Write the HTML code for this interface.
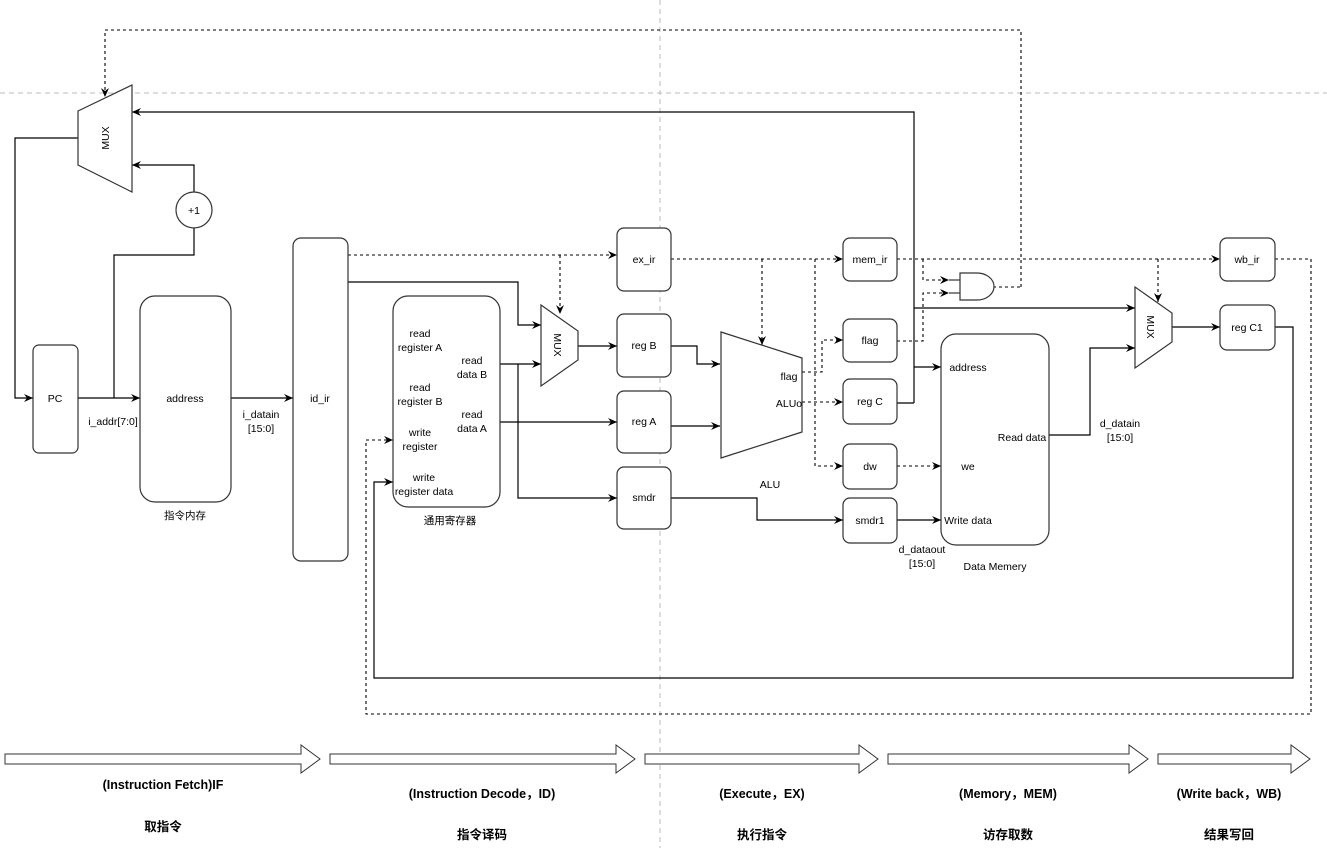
<!DOCTYPE html>
<html><head><meta charset="utf-8"><style>
html,body{margin:0;padding:0;background:#fff;}
svg{display:block;font-family:"Liberation Sans","Noto Sans CJK SC",sans-serif;}
</style></head><body>
<svg width="1327" height="848" viewBox="0 0 1327 848" xmlns="http://www.w3.org/2000/svg">
<defs>
<marker id="a" markerWidth="10" markerHeight="10" refX="9" refY="5" orient="auto" markerUnits="userSpaceOnUse"><path d="M0,1 L9,5 L0,9 L3,5 Z" fill="#000"/></marker>
</defs>
<line x1="0" y1="93" x2="1327" y2="93" stroke="#bbb" stroke-dasharray="5,4"/>
<line x1="660" y1="0" x2="660" y2="848" stroke="#bbb" stroke-dasharray="5,4"/>
<g fill="none" stroke="#000" stroke-width="1.2">
<path d="M914,403 V112 H132" marker-end="url(#a)"/>
<path d="M914,308 H1135" marker-end="url(#a)"/>
<path d="M914,367 H941" marker-end="url(#a)"/>
<path d="M897,403 H914"/>
<path d="M194,192 V165 H132" marker-end="url(#a)"/>
<path d="M194,228 V255 H114 V398"/>
<path d="M78,138 H15 V398 H33" marker-end="url(#a)"/>
<path d="M78,398 H140" marker-end="url(#a)"/>
<path d="M231,398 H293" marker-end="url(#a)"/>
<path d="M348,282 H518 V325 H541" marker-end="url(#a)"/>
<path d="M500,364 H541" marker-end="url(#a)"/>
<path d="M518,364 V498 H617" marker-end="url(#a)"/>
<path d="M500,422 H617" marker-end="url(#a)"/>
<path d="M578,346 H617" marker-end="url(#a)"/>
<path d="M671,346 H697 V364 H720" marker-end="url(#a)"/>
<path d="M671,426 H720" marker-end="url(#a)"/>
<path d="M671,498 H757 V520 H843" marker-end="url(#a)"/>
<path d="M897,520 H941" marker-end="url(#a)"/>
<path d="M1049,435 H1090 V348 H1135" marker-end="url(#a)"/>
<path d="M1172,327 H1220" marker-end="url(#a)"/>
<path d="M1275,327 H1293 V678 H374 V482 H393" marker-end="url(#a)"/>
</g>
<g fill="none" stroke="#000" stroke-width="1.1" stroke-dasharray="3,3">
<path d="M1021,287 V30 H105 V97" marker-end="url(#a)"/>
<path d="M993,287 H1021"/>
<path d="M348,255 H617" marker-end="url(#a)"/>
<path d="M560,255 V314" marker-end="url(#a)"/>
<path d="M671,259 H843" marker-end="url(#a)"/>
<path d="M762,259 V345" marker-end="url(#a)"/>
<path d="M815,259 V466 H843" marker-end="url(#a)"/>
<path d="M802,372 H822 V340 H843" marker-end="url(#a)"/>
<path d="M802,402 H843" marker-end="url(#a)"/>
<path d="M897,466 H941" marker-end="url(#a)"/>
<path d="M897,259 H1220" marker-end="url(#a)"/>
<path d="M923,259 V280 H949" marker-end="url(#a)"/>
<path d="M897,341 H923 V293 H949" marker-end="url(#a)"/>
<path d="M1158,259 V302" marker-end="url(#a)"/>
<path d="M1275,259 H1311 V714 H366 V440 H393" marker-end="url(#a)"/>
</g>
<g fill="#fff" stroke="#333" stroke-width="1.2">
<polygon points="78,111 132,85 132,192 78,165"/>
<circle cx="194" cy="210" r="18"/>
<rect x="33" y="345" width="45" height="108" rx="6"/>
<rect x="140" y="296" width="91" height="206" rx="15"/>
<rect x="293" y="238" width="55" height="323" rx="8"/>
<rect x="393" y="296" width="107" height="211" rx="15"/>
<polygon points="541,305 578,331 578,360 541,386"/>
<rect x="617" y="228" width="54" height="63" rx="7"/>
<rect x="617" y="314" width="54" height="63" rx="7"/>
<rect x="617" y="391" width="54" height="62" rx="7"/>
<rect x="617" y="467" width="54" height="62" rx="7"/>
<polygon points="721,332 802,358 802,432 721,458"/>
<rect x="843" y="238" width="54" height="43" rx="7"/>
<rect x="843" y="319" width="54" height="43" rx="7"/>
<rect x="843" y="379" width="54" height="45" rx="7"/>
<rect x="843" y="444" width="54" height="45" rx="7"/>
<rect x="843" y="498" width="54" height="45" rx="7"/>
<rect x="941" y="334" width="108" height="211" rx="15"/>
<path d="M960,273 H977 A17,13.5 0 0 1 977,300 H960 Z"/>
<line x1="949" y1="280" x2="960" y2="280"/><line x1="949" y1="293" x2="960" y2="293"/>
<polygon points="1135,287 1172,313 1172,342 1135,368"/>
<rect x="1220" y="238" width="55" height="43" rx="7"/>
<rect x="1220" y="305" width="55" height="45" rx="7"/>
</g>
<g stroke="#333" fill="#fff" stroke-width="1">
<path d="M5,754 H301 V745 L320,759 L301,773 V764 H5 Z"/>
<path d="M330,754 H616 V745 L635,759 L616,773 V764 H330 Z"/>
<path d="M645,754 H859 V745 L878,759 L859,773 V764 H645 Z"/>
<path d="M888,754 H1129 V745 L1148,759 L1129,773 V764 H888 Z"/>
<path d="M1158,754 H1291 V745 L1310,759 L1291,773 V764 H1158 Z"/>
</g>
<g font-size="10.5" fill="#000" text-anchor="middle">
<text transform="translate(105,138) rotate(-90)" dy="4">MUX</text>
<text transform="translate(558,345) rotate(90)" dy="4">MUX</text>
<text transform="translate(1151,327) rotate(90)" dy="4">MUX</text>
<text x="194" y="214">+1</text>
<text x="55" y="402">PC</text>
<text x="185" y="402">address</text>
<text x="185" y="519">指令内存</text>
<text x="113" y="425">i_addr[7:0]</text>
<text x="261" y="418">i_datain</text><text x="261" y="432">[15:0]</text>
<text x="320" y="402">id_ir</text>
<text x="420" y="337">read</text><text x="420" y="351">register A</text>
<text x="420" y="391">read</text><text x="420" y="405">register B</text>
<text x="420" y="436">write</text><text x="420" y="450">register</text>
<text x="424" y="481">write</text><text x="424" y="495">register data</text>
<text x="472" y="364">read</text><text x="472" y="378">data B</text>
<text x="472" y="418">read</text><text x="472" y="432">data A</text>
<text x="450" y="524">通用寄存器</text>
<text x="644" y="263">ex_ir</text>
<text x="644" y="349">reg B</text>
<text x="644" y="425">reg A</text>
<text x="644" y="501">smdr</text>
<text x="789" y="380">flag</text>
<text x="789" y="407">ALUo</text>
<text x="770" y="488">ALU</text>
<text x="870" y="263">mem_ir</text>
<text x="870" y="344">flag</text>
<text x="870" y="405">reg C</text>
<text x="870" y="470">dw</text>
<text x="870" y="524">smdr1</text>
<text x="922" y="553">d_dataout</text><text x="922" y="567">[15:0]</text>
<text x="968" y="371">address</text>
<text x="968" y="470">we</text>
<text x="1022" y="441">Read data</text>
<text x="968" y="524">Write data</text>
<text x="995" y="570">Data Memery</text>
<text x="1120" y="427">d_datain</text><text x="1120" y="441">[15:0]</text>
<text x="1247" y="263">wb_ir</text>
<text x="1247" y="331">reg C1</text>
</g>
<g font-size="12.5" font-weight="bold" fill="#000" text-anchor="middle">
<text x="163" y="789">(Instruction Fetch)IF</text>
<text x="163" y="831">取指令</text>
<text x="482" y="798">(Instruction Decode，ID)</text>
<text x="482" y="839">指令译码</text>
<text x="762" y="798">(Execute，EX)</text>
<text x="762" y="839">执行指令</text>
<text x="1008" y="798">(Memory，MEM)</text>
<text x="1008" y="839">访存取数</text>
<text x="1229" y="798">(Write back，WB)</text>
<text x="1229" y="839">结果写回</text>
</g>
</svg>
</body></html>
